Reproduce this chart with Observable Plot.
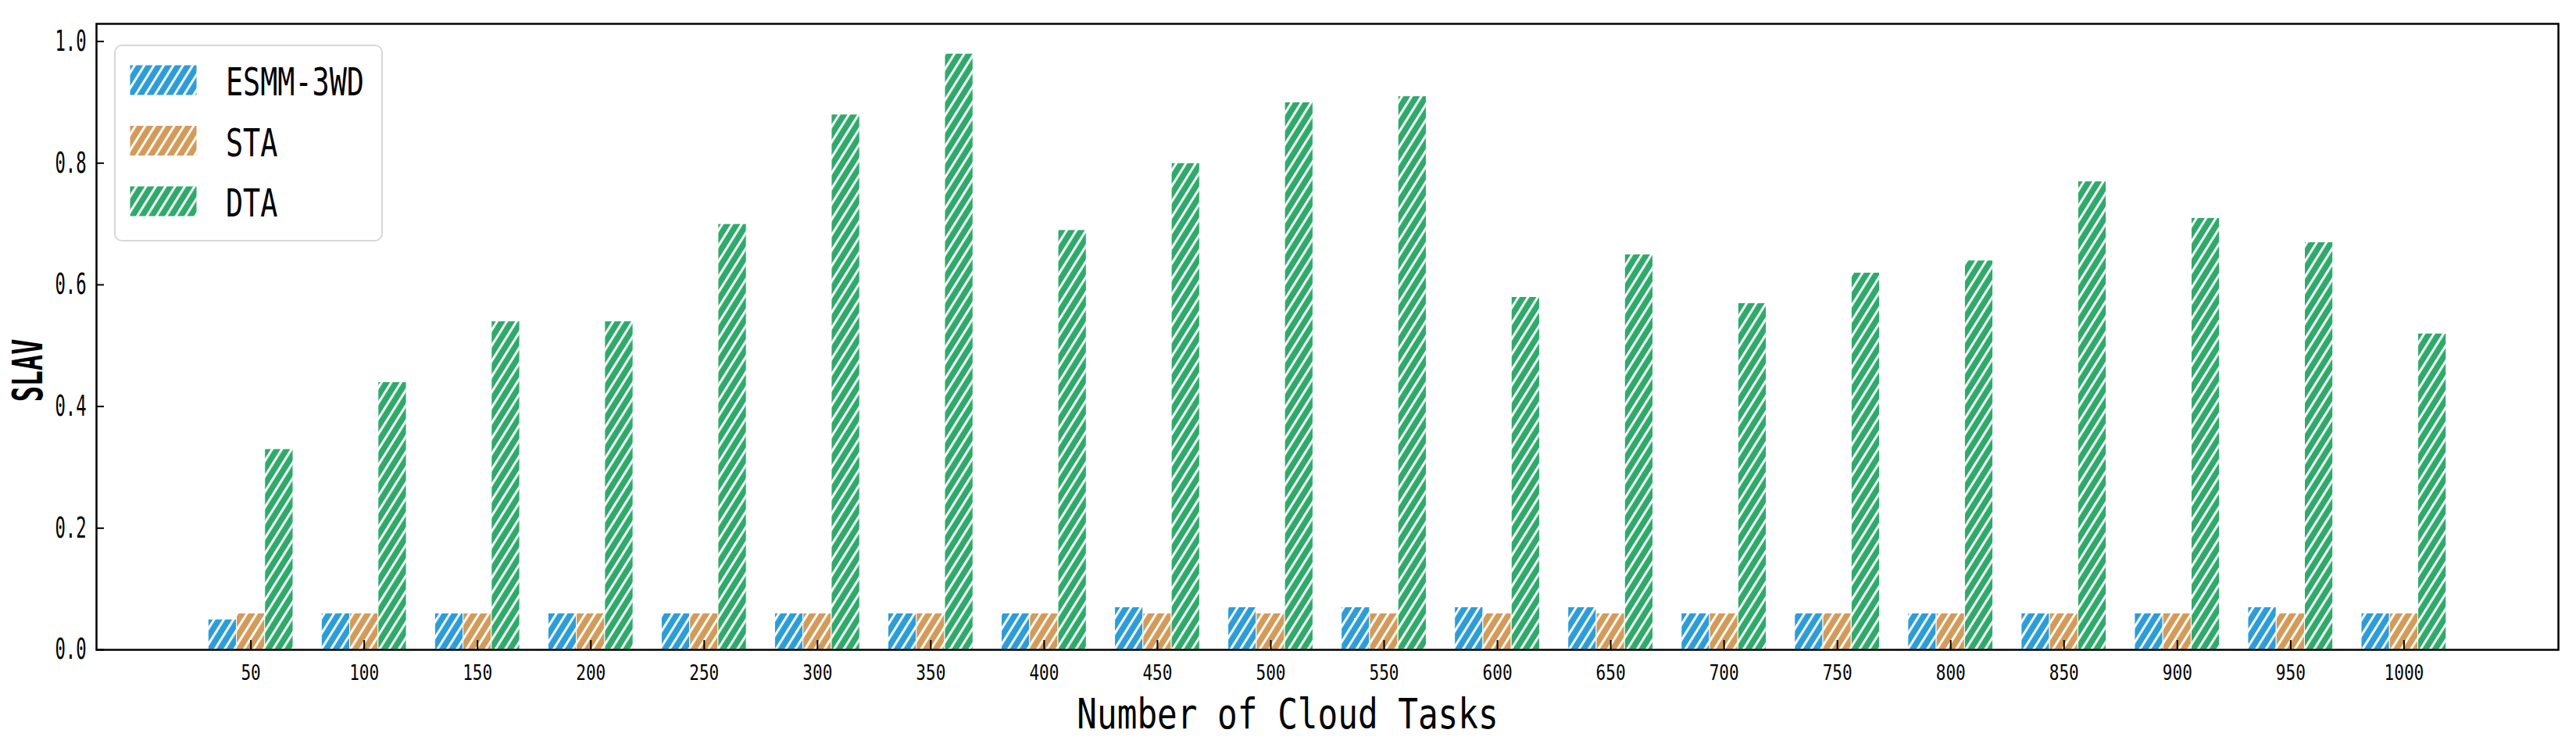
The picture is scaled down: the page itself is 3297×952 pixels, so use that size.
<!DOCTYPE html>
<html><head><meta charset="utf-8">
<script src="https://cdn.jsdelivr.net/npm/d3@7"></script>
<script src="https://cdn.jsdelivr.net/npm/@observablehq/plot@0.6"></script>
<style>
html,body{margin:0;padding:0;background:#fff;}
#chart{position:relative;width:3297px;height:952px;}
</style></head><body><div id="chart"></div>
<script>
const categories = ["50","100","150","200","250","300","350","400","450","500","550","600","650","700","750","800","850","900","950","1000"];
const seriesNames = ["ESMM-3WD","STA","DTA"];
const esmm = [0.05,0.06,0.06,0.06,0.06,0.06,0.06,0.06,0.07,0.07,0.07,0.07,0.07,0.06,0.06,0.06,0.06,0.06,0.07,0.06];
const sta  = [0.06,0.06,0.06,0.06,0.06,0.06,0.06,0.06,0.06,0.06,0.06,0.06,0.06,0.06,0.06,0.06,0.06,0.06,0.06,0.06];
const dta  = [0.33,0.44,0.54,0.54,0.70,0.88,0.98,0.69,0.80,0.90,0.91,0.58,0.65,0.57,0.62,0.64,0.77,0.71,0.67,0.52];
const yTicks = [0, 0.2, 0.4, 0.6, 0.8, 1.0];
const colors = ["#2b9dd8", "#d49a58", "#2eaa6a"];
const xLabel = "Number of Cloud Tasks";
const yLabel = "SLAV";

const seriesValues = [esmm, sta, dta];
const data = [];
categories.forEach((c, i) => {
  seriesValues.forEach((arr, k) => data.push({i, category: c, series: seriesNames[k], k, value: arr[i]}));
});
const barW = 0.25;
const MONO = "'DejaVu Sans Mono', 'Liberation Mono', monospace";

const plot = Plot.plot({
  width: 3297, height: 952,
  marginTop: 30, marginRight: 23, marginBottom: 121, marginLeft: 123,
  style: {background: "white", fontFamily: MONO, color: "black", overflow: "visible"},
  x: {domain: [-1.3625, 20.3625], axis: null},
  y: {domain: [0, 1.029], axis: null},
  color: {domain: seriesNames, range: seriesNames.map((s, k) => `url(#hatch${k})`)},
  marks: [
    Plot.rectY(data, {
      x1: d => d.i + (d.k - 1) * barW - barW / 2,
      x2: d => d.i + (d.k - 1) * barW + barW / 2,
      y: "value", fill: "series", stroke: "white", strokeWidth: 1
    }),
    Plot.axisX({ticks: categories.map((c, i) => i), tickFormat: i => categories[i], tickSize: -12, tickPadding: 31, fontSize: 27, strokeWidth: 2, label: null}),
    Plot.axisY({ticks: yTicks, tickFormat: d => d.toFixed(1), tickSize: -10, tickPadding: 23, fontSize: 37, strokeWidth: 2, label: null}),
    Plot.frame({stroke: "black", strokeWidth: 2.5})
  ]
});

document.getElementById("chart").appendChild(plot);
const svg = d3.select(plot);

// hatch patterns
const defs = svg.insert("defs", ":first-child");
colors.forEach((c, k) => {
  const p = defs.append("pattern").attr("id", `hatch${k}`).attr("patternUnits", "userSpaceOnUse")
    .attr("width", 10.5).attr("height", 10.5).attr("patternTransform", "rotate(32)");
  p.append("rect").attr("width", 10.5).attr("height", 10.5).attr("fill", c);
  p.append("rect").attr("x", 0).attr("width", 3).attr("height", 10.5).attr("fill", "white");
});

// squeeze tick labels horizontally (tall, narrow glyphs as in reference)
svg.selectAll("g[aria-label='x-axis tick label'] text").each(function() {
  const t = this.getAttribute("transform") || "";
  this.setAttribute("transform", `${t} scale(0.78,1)`);
});
svg.selectAll("g[aria-label='y-axis tick label'] text").each(function() {
  const t = this.getAttribute("transform") || "";
  this.setAttribute("transform", `${t} scale(0.6,1)`);
});

// axis labels
svg.append("text").text(xLabel)
  .attr("transform", "translate(1648,932) scale(0.79,1)")
  .attr("text-anchor", "middle").attr("font-family", MONO).attr("font-size", 54).attr("fill", "black");
svg.append("text").text(yLabel)
  .attr("transform", "translate(35,474) rotate(-90) scale(0.62,1)")
  .attr("text-anchor", "middle").attr("dominant-baseline", "central")
  .attr("font-family", MONO).attr("font-weight", "bold").attr("font-size", 54).attr("fill", "black");

// legend
const lg = svg.append("g").attr("aria-label", "legend");
lg.append("rect").attr("x", 147).attr("y", 58).attr("width", 342).attr("height", 250)
  .attr("rx", 9).attr("fill", "white").attr("fill-opacity", 0.85).attr("stroke", "#d8d8d8").attr("stroke-width", 2);
seriesNames.forEach((s, k) => {
  const top = 83 + k * 77.5;
  lg.append("rect").attr("x", 166).attr("y", top).attr("width", 86).attr("height", 39)
    .attr("fill", `url(#hatch${k})`).attr("stroke", "white").attr("stroke-width", 1);
  lg.append("text").text(s)
    .attr("transform", `translate(289,${top + 39}) scale(0.735,1)`)
    .attr("text-anchor", "start")
    .attr("font-family", MONO).attr("font-size", 50).attr("fill", "black");
});
</script></body></html>
